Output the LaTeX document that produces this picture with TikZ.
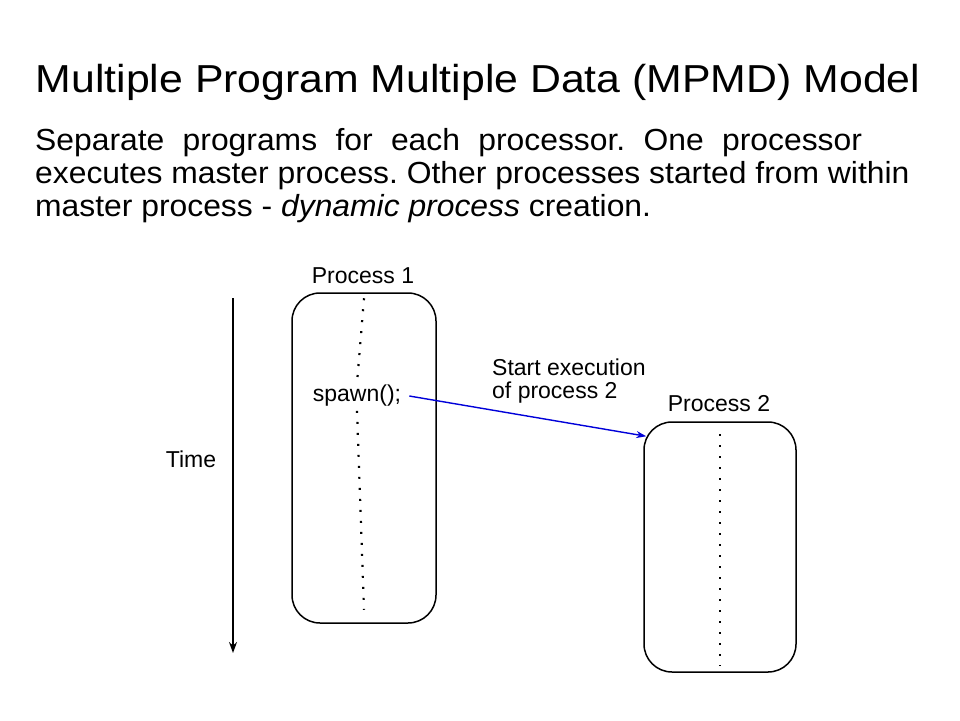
\documentclass[tikz,border=0pt]{standalone}
\usepackage{fontspec}
\setmainfont{Liberation Sans}
\usetikzlibrary{arrows.meta}
\frenchspacing

\begin{document}
\begin{tikzpicture}[x=1pt,y=-1pt,
  title/.style={font=\fontsize{39}{44}\selectfont},
  para/.style={font=\fontsize{30.5}{33}\selectfont,align=left,inner sep=0pt,anchor=north west},
  label/.style={font=\fontsize{23}{23}\selectfont,align=left,inner sep=0pt},
  process/.style={draw,line width=1.5pt,rounded corners=28pt,inner sep=0pt},
  dots/.style={line width=2.2pt,dash pattern=on 2pt off 9pt},
  to/.style={-{Stealth[length=11pt,width=8pt]},line width=1.4pt}]

  \useasboundingbox (0,0) rectangle (960,720);

  % Heading and text
  \node[title] (heading) at (478,82) {\scalebox{1.097}[1]{Multiple Program Multiple Data (MPMD) Model}};
  \node[para] (text) at (35,128) {\scalebox{1.044}[1]{\parbox[t]{840pt}{%
    \makebox[792pt][s]{Separate programs for each processor. One processor}\\
    executes master process. Other processes started from within\\
    master process - \textit{dynamic process} creation.}}};

  % Position the process boxes
  \node[process,minimum width=144pt,minimum height=330pt] (proc1) at (364,458) {};
  \node[process,minimum width=152pt,minimum height=250pt] (proc2) at (720,547) {};
  \node[label,anchor=south] (name1) at (363,284) {Process 1};
  \node[label,anchor=south] (name2) at (719,412) {Process 2};
  \node[label] (spawn) at (357,396) {spawn();};
  \node[label,anchor=west] (start) at (492,381) {Start execution\\of process 2};

  % Time axis
  \coordinate (ttop) at (233,298);
  \coordinate (tbot) at (233,653);
  \node[label] (time) at (191,459) {Time};
  \draw[to] (ttop) -- (tbot);

  % Dotted threads of control
  \draw[dots] ([yshift=-6pt]proc1.north) -- ([yshift=2pt]spawn.north);
  \draw[dots] ([yshift=-4pt]spawn.south) -- ([yshift=14pt]proc1.south);
  \draw[dots] ([yshift=-13pt]proc2.north) -- ([yshift=7pt]proc2.south);

  % Spawn arrow
  \draw[to,blue!85!black,-{Stealth[length=10pt,width=7pt]}] ([xshift=8pt]spawn.east) -- ([xshift=3pt,yshift=-15pt]proc2.north west);
\end{tikzpicture}
\end{document}
